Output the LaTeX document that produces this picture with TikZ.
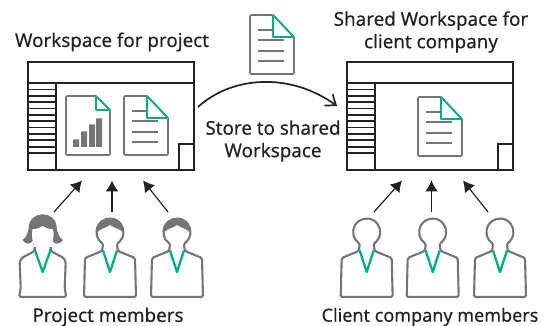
\documentclass[tikz,border=0pt]{standalone}
\usepackage{fontspec}
\setmainfont[RawFeature={embolden=0.35}]{Noto Sans}
\usetikzlibrary{arrows.meta}
\definecolor{ink}{HTML}{222222}
\definecolor{grayline}{HTML}{757575}
\definecolor{teal}{HTML}{00B07C}
\tikzset{
  label/.style={font=\fontsize{18.8}{22.5}\selectfont, text=ink, align=center, inner sep=0pt},
  winline/.style={draw=ink, line width=1.8pt},
  docline/.style={draw=grayline, line width=1.6pt, line join=round},
  foldline/.style={draw=teal, line width=1.7pt, line join=round},
  flow/.style={draw=ink, line width=1.2pt, -{Latex[length=11pt,width=13pt]}},
  personline/.style={draw=grayline, line width=2.1pt, rounded corners=1.5pt, fill=white},
  pics/window/.style={code={
    \draw[winline] (0,0) rectangle (166,108);
    \draw[winline] (0,21) -- (165,21);
    \draw[winline] (28,21) -- (28,108);
    \foreach \k in {0,...,10} \draw[winline] (0,{27.5+\k*6.35}) -- (28,{27.5+\k*6.35});
    \draw[winline] (151,108) -- (151,82) -- (166,82);
  }},
  pics/textdoc/.style={code={
    \draw[docline, rounded corners=1pt] (0,0) -- (23,0) -- (44,22) -- (44,59) -- (0,59) -- cycle;
    \draw[docline] (8,15) -- (23,15);
    \foreach \y in {25,36,46} \draw[docline] (8,\y) -- (34,\y);
    \draw[foldline] (23,0) -- (44,22) -- (23,22) -- cycle;
  }},
  pics/chartdoc/.style={code={
    \draw[docline, rounded corners=1pt] (0,0) -- (30,0) -- (44,14) -- (44,59) -- (0,59) -- cycle;
    \fill[grayline] (7,43.5) rectangle (13,51) (15,35.5) rectangle (21,51) (23,28.5) rectangle (29,51) (30,22.5) rectangle (36,51);
    \draw[foldline] (30,0) -- (44,14) -- (30,14) -- cycle;
  }},
  pics/personbody/.style={code={
    \draw[personline] (-26,65) -- (-25,26) -- (-8,19) -- (-7.5,16) -- (-6.75,11.7)
      arc[start angle=120,end angle=420,radius=13.5] -- (7.5,16) -- (8,19) -- (25,26) -- (26,65) -- cycle;
    \draw[teal, line width=2.3pt, line join=round] (-7,18.5) -- (0,40) -- (7,18.5);
  }},
  pics/womanbody/.style={code={
    \draw[personline] (-23.5,65) -- (-22,56) -- (-23,30) -- (-21,26) -- (-8,19) -- (-8,10) -- (8,10) -- (8,19) -- (21,26) -- (23,30) -- (22,56) -- (23.5,65) -- cycle;
    \draw[teal, line width=2.3pt, line join=round] (-8,17.5) -- (0,40) -- (8,17.5);
  }},
  pics/shorthair/.style={code={
    \fill[grayline] (-13.5,1) arc[start angle=180,end angle=360,radius=13.5]
      .. controls (11,-3) and (4,-4) .. (0,-7) .. controls (-4,-4) and (-11,-3) .. cycle;
  }},
  pics/longhair/.style={code={
    \fill[white] (-9,0) rectangle (9,15);
    \fill[grayline] (-10,9) .. controls (-12,12) and (-16,13.5) .. (-20.3,8)
      .. controls (-16,6) and (-14,-2) .. (-14,-4)
      .. controls (-14,-13) and (-7,-17.7) .. (0,-17.7)
      .. controls (7,-17.7) and (14,-13) .. (14,-4)
      .. controls (14,-2) and (16,6) .. (20.3,8)
      .. controls (16,13.5) and (12,12) .. (10,9)
      .. controls (11,5) and (11.5,0) .. (10,-3)
      .. controls (6,-3) and (3,-4) .. (0,-6)
      .. controls (-3,-4) and (-6,-3) .. (-10,-3)
      .. controls (-11.5,0) and (-11,5) .. (-10,9) -- cycle;
  }},
}
\begin{document}
\begin{tikzpicture}[x=1pt,y=-1pt]
\useasboundingbox (0,0) rectangle (560,326);
\node[label] (titleL) at (112,42) {Workspace for project};
\node[label] (titleR) at (431,32) {Shared Workspace for\\client company};
\node[label] (store) at (273,141) {Store to shared\\Workspace};
\node[label] (membersL) at (108,317) {Project members};
\node[label, font=\fontsize{18}{22}\selectfont] (membersR) at (430,317) {Client company members};

\pic at (28,62) {window};
\pic at (347,62) {window};
\pic at (66,96) {chartdoc};
\pic at (124,96) {textdoc};
\pic at (418,97) {textdoc};
\pic at (250,15) {textdoc};

\coordinate (curveA) at (198,107);
\coordinate (curveB) at (337,106);
\draw[ink, line width=1.7pt, -{Straight Barb[length=9pt,width=14pt]}] (curveA) .. controls (232,76) and (290,72) .. (curveB);

\pic at (42.7,232) {womanbody};
\pic at (110,232) {personbody};
\pic at (177,232) {personbody};
\pic at (366.7,232) {personbody};
\pic at (432.7,232) {personbody};
\pic at (500,232) {personbody};
\pic at (42.7,232) {longhair};
\pic at (110,232) {shorthair};
\pic at (177,232) {shorthair};

\foreach \n/\ax/\bx in {a/54/82,b/112/112,c/168/143,d/374/402,e/431.5/431.5,f/488/463}{
  \coordinate (from\n) at (\ax,212);
  \coordinate (to\n) at (\bx,180.5);
  \draw[flow] (from\n) -- (to\n);
}
\end{tikzpicture}
\end{document}
